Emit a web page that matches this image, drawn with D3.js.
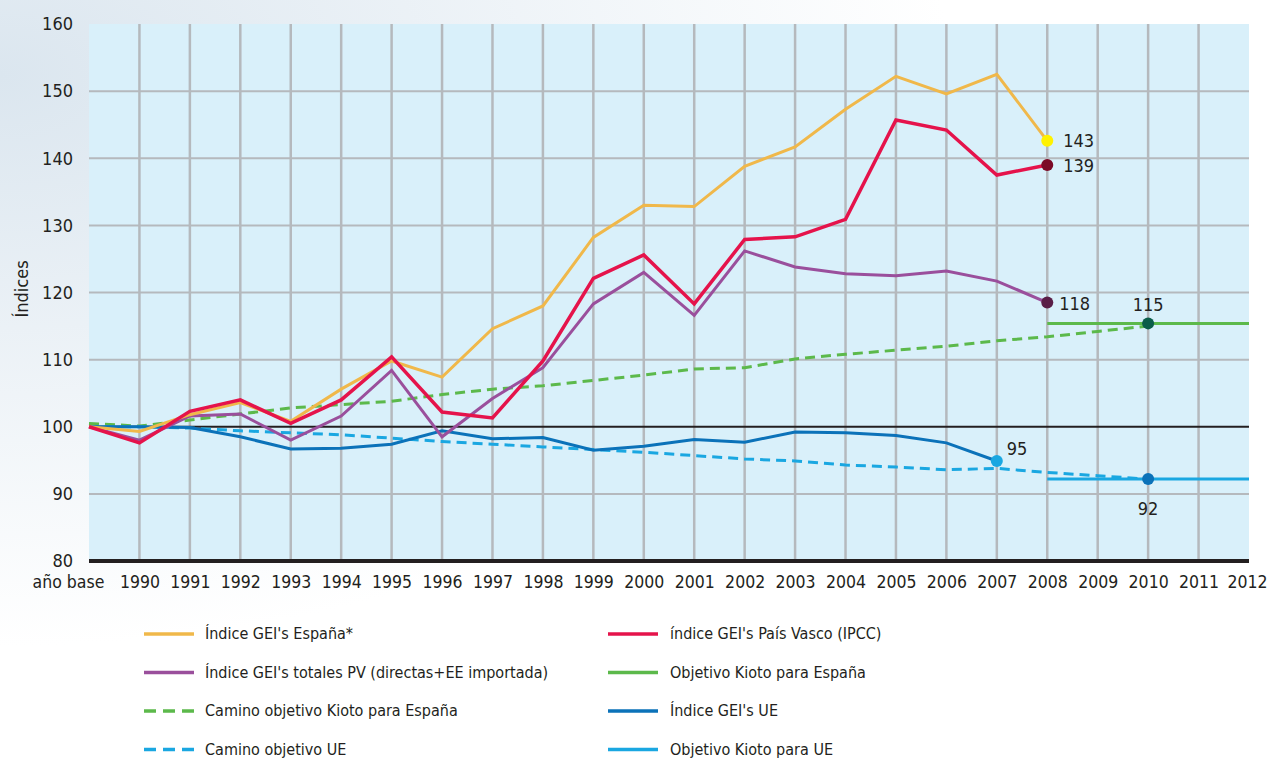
<!DOCTYPE html>
<html>
<head>
<meta charset="utf-8">
<script src="https://cdn.jsdelivr.net/npm/d3@7"></script>
<style>
  body { margin: 0; background: #fff; }
  svg text { font-family: "Liberation Sans Narrow", "Arial Narrow", "DejaVu Sans Condensed", "Liberation Sans", sans-serif; fill: #231f20; }
</style>
</head>
<body>
<div id="chart"></div>
<script>
// categories on the x axis
const years = ["año base","1990","1991","1992","1993","1994","1995","1996","1997","1998","1999","2000",
  "2001","2002","2003","2004","2005","2006","2007","2008","2009","2010","2011","2012"]
const yTicks = [80, 90, 100, 110, 120, 130, 140, 150, 160]

// series values (año base .. 2008 / 2010)
const espana = [100, 99.3, 101.8, 103.6, 100.8, 105.6, 109.8, 107.4, 114.6, 118, 128.2, 133, 132.8, 138.8, 141.7, 147.3, 152.2, 149.6, 152.5, 142.6]
const paisVasco = [100, 97.6, 102.3, 104, 100.5, 104, 110.4, 102.2, 101.3, 109.8, 122.1, 125.6, 118.3, 127.9, 128.3, 130.9, 145.7, 144.2, 137.5, 139]
const totalesPV = [100, 98, 101.6, 101.9, 98, 101.6, 108.4, 98.5, 104.2, 108.8, 118.3, 123, 116.6, 126.2, 123.8, 122.8, 122.5, 123.2, 121.7, 118.5]
const caminoEspana = [100.5, 100.1, 101, 101.9, 102.8, 103.3, 103.8, 104.8, 105.6, 106.1, 106.9, 107.7, 108.6, 108.8, 110.1, 110.8, 111.4, 112, 112.8, 113.4, 114.2, 115]
const gelUE = [100, 100, 99.9, 98.5, 96.7, 96.8, 97.4, 99.4, 98.2, 98.4, 96.5, 97.1, 98.1, 97.7, 99.2, 99.1, 98.7, 97.6, 94.9]
const caminoUE = [100, 100, 99.8, 99.4, 99.1, 98.8, 98.3, 97.8, 97.4, 97, 96.6, 96.2, 95.7, 95.2, 94.9, 94.3, 94, 93.6, 93.8, 93.2, 92.7, 92.2]
const objEspana = [["2008", 115.4], ["2010", 115.4], ["2012", 115.4]]
const objUE = [["2008", 92.2], ["2010", 92.2], ["2012", 92.2]]

const series = [
  {name: "Índice GEI's España*", values: espana, color: "#f0b84a", dash: null},
  {name: "índice GEI's País Vasco (IPCC)", values: paisVasco, color: "#e5134b", dash: null},
  {name: "Índice GEI's totales PV (directas+EE importada)", values: totalesPV, color: "#9a4f9c", dash: null},
  {name: "Objetivo Kioto para España", values: null, color: "#5cb94b", dash: null},
  {name: "Camino objetivo Kioto para España", values: caminoEspana, color: "#5cb94b", dash: "10,6"},
  {name: "Índice GEI's UE", values: gelUE, color: "#0b72b9", dash: null},
  {name: "Camino objetivo UE", values: caminoUE, color: "#1aa7e1", dash: "10,6"},
  {name: "Objetivo Kioto para UE", values: null, color: "#1aa7e1", dash: null}
]

const W = 1267, H = 760
const svg = d3.select("#chart").append("svg").attr("width", W).attr("height", H)

// soft page background
const defs = svg.append("defs")
const grad = defs.append("radialGradient").attr("id", "bg").attr("cx", "0%").attr("cy", "10%").attr("r", "75%")
grad.append("stop").attr("offset", "0%").attr("stop-color", "#dbe6ef")
grad.append("stop").attr("offset", "100%").attr("stop-color", "#ffffff")
svg.append("rect").attr("width", W).attr("height", H).attr("fill", "url(#bg)")

const x = d3.scalePoint().domain(years).range([89, 1249])
const y = d3.scaleLinear().domain([80, 160]).range([561, 24])

svg.append("rect")
  .attr("x", 89).attr("y", y(160))
  .attr("width", 1249 - 89).attr("height", y(80) - y(160))
  .attr("fill", "#d9f0fa")

// grid
svg.append("g").selectAll("line")
  .data(yTicks.filter(d => d > 80 && d < 160 && d !== 100))
  .join("line")
  .attr("x1", 89).attr("x2", 1249)
  .attr("y1", d => y(d)).attr("y2", d => y(d))
  .attr("stroke", "#b5b9bd").attr("stroke-width", 2)
svg.append("g").selectAll("line")
  .data(years.slice(1, -1))
  .join("line")
  .attr("x1", d => x(d)).attr("x2", d => x(d))
  .attr("y1", y(160)).attr("y2", y(80))
  .attr("stroke", "#b5b9bd").attr("stroke-width", 2.5)

svg.append("line").attr("x1", 89).attr("x2", 1249).attr("y1", y(100)).attr("y2", y(100))
  .attr("stroke", "#231f20").attr("stroke-width", 2)

// axes
const yAxis = svg.append("g").attr("transform", "translate(89,0)")
  .call(d3.axisLeft(y).tickValues(yTicks).tickSize(0).tickPadding(16))
yAxis.select(".domain").remove()
yAxis.selectAll("text").style("font-size", "18px")

const xAxis = svg.append("g").attr("transform", `translate(0,${y(80)})`)
  .call(d3.axisBottom(x).tickSize(0).tickPadding(15))
xAxis.select(".domain").remove()
xAxis.selectAll("text").style("font-size", "17.5px")
  .attr("dx", d => d === "año base" ? -21 : d === "2012" ? -2 : 0)

svg.append("line").attr("x1", 89).attr("x2", 1249).attr("y1", y(80)).attr("y2", y(80))
  .attr("stroke", "#231f20").attr("stroke-width", 4)

svg.append("text")
  .attr("transform", "rotate(-90)")
  .attr("x", -289).attr("y", 28)
  .attr("text-anchor", "middle")
  .style("font-size", "18px")
  .text("Índices")

// lines
const line = d3.line().x(d => x(d[0])).y(d => y(d[1]))
const drawOrder = [4, 6, 5, 2, 0, 1]
drawOrder.forEach(i => {
  const s = series[i]
  svg.append("path")
    .datum(s.values.map((v, j) => [years[j], v]))
    .attr("fill", "none")
    .attr("stroke", s.color)
    .attr("stroke-width", i === 1 ? 3.5 : 3)
    .attr("stroke-dasharray", s.dash)
    .attr("stroke-linejoin", "miter")
    .attr("d", line)
})
svg.append("path").datum(objEspana).attr("fill", "none").attr("stroke", series[3].color)
  .attr("stroke-width", 3).attr("d", line)
svg.append("path").datum(objUE).attr("fill", "none").attr("stroke", series[7].color)
  .attr("stroke-width", 3).attr("d", line)

// end markers and value labels
const markers = [
  {year: "2008", v: espana[19], fill: "#fff200", label: "143", dx: 16, dy: 6, anchor: "start"},
  {year: "2008", v: paisVasco[19], fill: "#7b0a27", label: "139", dx: 16, dy: 7, anchor: "start"},
  {year: "2008", v: totalesPV[19], fill: "#5a1e47", label: "118", dx: 12, dy: 7, anchor: "start"},
  {year: "2010", v: objEspana[1][1], fill: "#0b5d49", label: "115", dx: 0, dy: -12, anchor: "middle"},
  {year: "2007", v: gelUE[18], fill: "#1aa7e1", label: "95", dx: 10, dy: -6, anchor: "start"},
  {year: "2010", v: objUE[1][1], fill: "#0b72b9", label: "92", dx: 0, dy: 36, anchor: "middle"}
]
svg.append("g").selectAll("circle").data(markers).join("circle")
  .attr("cx", d => x(d.year)).attr("cy", d => y(d.v)).attr("r", 6)
  .attr("fill", d => d.fill)
svg.append("g").selectAll("text").data(markers).join("text")
  .attr("x", d => x(d.year) + d.dx).attr("y", d => y(d.v) + d.dy)
  .attr("text-anchor", d => d.anchor)
  .style("font-size", "18px")
  .text(d => d.label)

// legend
const legendOrder = [0, 1, 2, 3, 4, 5, 6, 7]
const leg = svg.append("g").selectAll("g").data(legendOrder).join("g")
  .attr("transform", (d, i) => `translate(${i % 2 === 0 ? 144 : 608},${634 + Math.floor(i / 2) * 38.5})`)
leg.append("line")
  .attr("x1", 0).attr("x2", 50).attr("y1", 0).attr("y2", 0)
  .attr("stroke", d => series[d].color).attr("stroke-width", 3.5)
  .attr("stroke-dasharray", d => series[d].dash ? "12,7" : null)
leg.append("text")
  .attr("x", (d, i) => i % 2 === 0 ? 61 : 62)
  .attr("y", 5)
  .style("font-size", "16px")
  .text(d => series[d].name)
</script>
</body>
</html>
